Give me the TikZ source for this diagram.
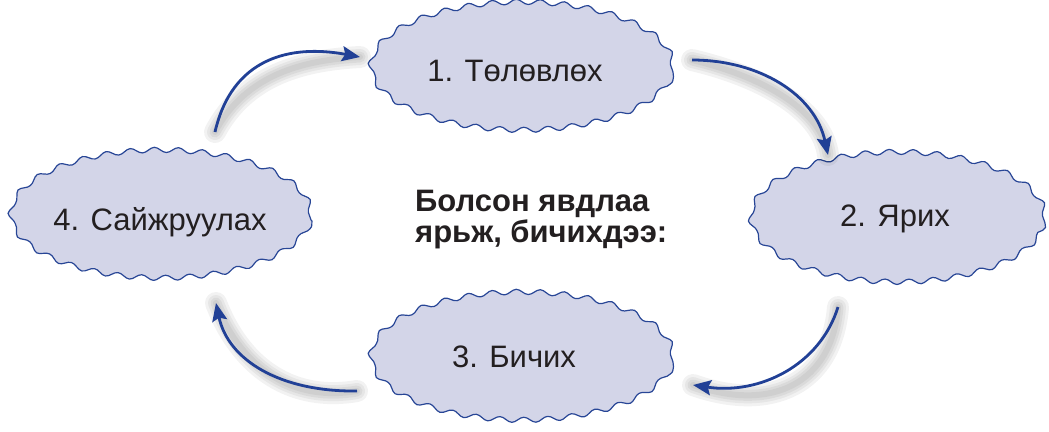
\documentclass[tikz,border=0pt]{standalone}
\usepackage{fontspec}
\setmainfont{Liberation Sans}
\usetikzlibrary{shapes.geometric,decorations.pathmorphing,arrows.meta}
\definecolor{fillc}{RGB}{211,213,232}
\definecolor{borderc}{RGB}{40,70,150}
\definecolor{arrowc}{RGB}{33,64,150}
\definecolor{textc}{RGB}{35,31,32}
\tikzset{
  wavy/.style={ellipse, inner sep=0pt, fill=fillc, draw=borderc, line width=1.2bp,
    line join=round,
    decorate, decoration={snake, segment length=24bp, amplitude=2.6bp}},
  lbl/.style={inner sep=0pt, text height=22bp, text depth=0pt, text=textc,
    font=\fontsize{31bp}{36bp}\selectfont},
  cyclearrow/.style={draw=arrowc, line width=2.8bp, -{Stealth[length=18bp, width=15bp, inset=3bp]}},
  shadowline/.style={draw=black, opacity=0.05, line cap=round},
}
\begin{document}
\begin{tikzpicture}[x=1bp, y=-1bp]
\useasboundingbox (0,0) rectangle (1049,431);

% ellipses
\node[wavy, minimum width=302bp, minimum height=128bp] (n1) at (522,72) {};
\node[wavy, minimum width=294bp, minimum height=130bp] (n2) at (898,223) {};
\node[wavy, minimum width=302bp, minimum height=128bp] (n3) at (522,362) {};
\node[wavy, minimum width=300bp, minimum height=128bp] (n4) at (161,220) {};

% labels
\node[lbl] (t1) at (515,70) {1. Төлөвлөх};
\node[lbl] (t2) at (895,215) {2. Ярих};
\node[lbl] (t3) at (514,356) {3. Бичих};
\node[lbl] (t4) at (160,219) {4. Сайжруулах};

\node[anchor=base west, align=left, inner sep=0pt, text=textc,
  font=\fontsize{31bp}{31bp}\selectfont\bfseries] (c) at (415,242)
  {Болсон явдлаа\\ярьж, бичихдээ:};

% arrow end points
\coordinate (s1) at (215,132); \coordinate (e1) at (360,57);
\coordinate (s2) at (692,60);  \coordinate (e2) at (828,155);
\coordinate (s3) at (838,307); \coordinate (e3) at (693,385);
\coordinate (s4) at (357,391); \coordinate (e4) at (216,303);

% shadows
\foreach \w in {22,16,11,6}{
  \draw[shadowline, line width=\w bp, shift={(14,16)}]
    (s1) .. controls (232,58) and (290,44) .. (e1);
  \draw[shadowline, line width=\w bp, shift={(8,18)}]
    (s2) .. controls (760,60) and (815,95) .. (e2);
  \draw[shadowline, line width=\w bp, shift={(12,18)}]
    (s3) .. controls (820,365) and (760,395) .. (e3);
  \draw[shadowline, line width=\w bp, shift={(14,10)}]
    (s4) .. controls (280,392) and (228,360) .. (e4);
}

% arrows
\draw[cyclearrow] (s1) .. controls (232,58) and (290,44) .. (e1);
\draw[cyclearrow] (s2) .. controls (760,60) and (815,95) .. (e2);
\draw[cyclearrow] (s3) .. controls (820,365) and (760,395) .. (e3);
\draw[cyclearrow] (s4) .. controls (280,392) and (228,360) .. (e4);
\end{tikzpicture}
\end{document}
